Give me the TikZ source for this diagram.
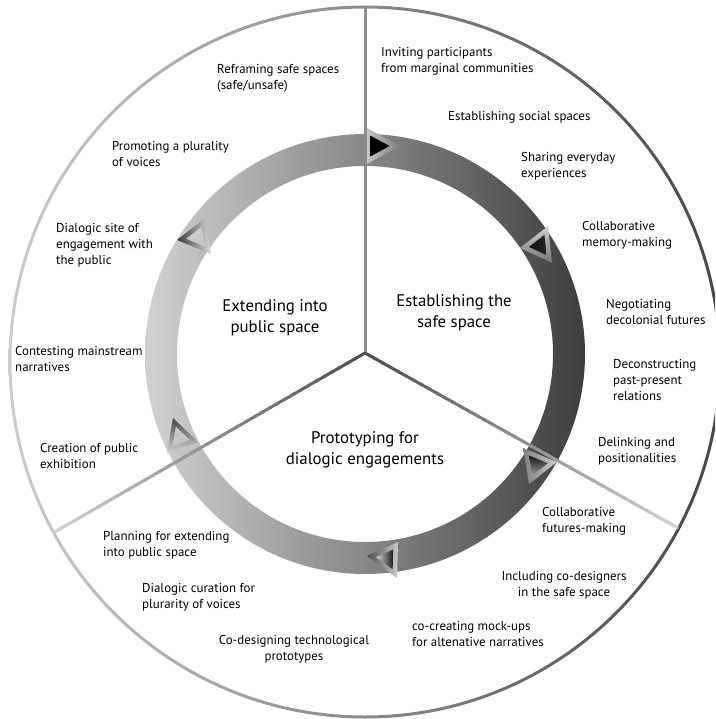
\documentclass[tikz,border=0pt]{standalone}
\usepackage{fontspec}
\setmainfont{PT Sans}
\usetikzlibrary{calc}
\newcommand\gradline[4]{%
  \foreach \k in {0,...,39}{%
    \pgfmathsetmacro\ta{\k/40}%
    \pgfmathsetmacro\tb{min(1,(\k+1.4)/40)}%
    \pgfmathsetmacro\pc{#3+(#4-#3)*(\k+0.5)/40}%
    \draw[radial, draw=black!\pc] ($(#1)!\ta!(#2)$) -- ($(#1)!\tb!(#2)$);
  }}
\newcommand\trimark[5]{%
  \coordinate (ta) at (#1); \coordinate (tb) at (#2); \coordinate (tc) at (#3);
  \coordinate (tm) at ($0.3333*(ta)+0.3333*(tb)+0.3334*(tc)$);
  \shade[#4] (ta) -- (tb) -- (tc) -- cycle;
  \shade[#5] ($(tm)!0.55!(ta)$) -- ($(tm)!0.55!(tb)$) -- ($(tm)!0.55!(tc)$) -- cycle;
}
\begin{document}
\begin{tikzpicture}[x=1pt,y=-1pt,
  lbl/.style={anchor=north west, inner sep=0pt, align=left, font=\fontsize{12.9}{16}\selectfont, text=black},
  lblc/.style={lbl, anchor=north, align=center},
  big/.style={anchor=north, inner sep=0pt, align=center, font=\fontsize{16.8}{21}\selectfont, text=black},
  radial/.style={line width=3pt}]
\useasboundingbox (0,0) rectangle (715,719);
\clip (0,0) rectangle (715,719);
\fill[white] (0,0) rectangle (715,719);
\coordinate (oc) at (365,362);
\coordinate (hub) at (365,353);
\coordinate (rc) at (365,354);
\coordinate (eTop) at (365,6);
\coordinate (eLL) at (53,533);
\coordinate (eLR) at (678,528);
% outer circle
\shade[left color=black!20, right color=black!72, even odd rule] (oc) circle (356.5pt) (oc) circle (353.5pt);
% ring
\shade[left color=black!18, right color=black!76, even odd rule] (rc) circle (220pt) (rc) circle (188pt);
% markers
\trimark{365,127}{400,146}{365,165}{left color=black!22, right color=black!50}{left color=black, right color=black}
\trimark{520,248}{548,226}{552,263}{top color=black!18, bottom color=black!55}{left color=black!95, right color=black!85}
\trimark{523,448}{557,462}{529,484}{left color=black!50, right color=black!20}{top color=black!92, bottom color=black!40}
\trimark{367,556}{398,542}{397,578}{left color=black!70, right color=black!20}{left color=black!15, right color=black!90}
\trimark{173,418}{198,442}{167,453}{top color=black!72, bottom color=black!18}{left color=black!22, right color=black!22}
\trimark{177,240}{205,218}{211,254}{left color=black!78, right color=black!15}{left color=black!22, right color=black!20}
% radial lines
\draw[radial, black!45] (hub) -- (eTop);
\gradline{hub}{eLL}{70}{18}
\gradline{hub}{eLR}{70}{18}
% centre labels
\node[big] (cEst) at (454,294) {Establishing the\\safe space};
\node[big] (cExt) at (275,299) {Extending into\\public space};
\node[big] (cPro) at (365,431) {Prototyping for\\dialogic engagements};
% labels
\node[lbl] (l1) at (381,47) {Inviting participants\\from marginal communities};
\node[lbl] (l2) at (448,111) {Establishing social spaces};
\node[lbl] (l3) at (521,152) {Sharing everyday\\experiences};
\node[lbl] (l4) at (582,221) {Collaborative\\memory-making};
\node[lbl] (l5) at (606,299) {Negotiating\\decolonial futures};
\node[lbl] (l6) at (613,359) {Deconstructing\\past-present\\relations};
\node[lbl] (l7) at (598,437) {Delinking and\\positionalities};
\node[lbl] (l8) at (542,507) {Collaborative\\futures-making};
\node[lblc] (l9) at (564,571) {Including co-designers\\in the safe space};
\node[lbl] (l10) at (412,621) {co-creating mock-ups\\for altenative narratives};
\node[lblc] (l11) at (294,635) {Co-designing technological\\prototypes};
\node[lbl] (l12) at (142,583) {Dialogic curation for\\plurarity of voices};
\node[lbl] (l13) at (103,531) {Planning for extending\\into public space};
\node[lbl] (l14) at (40,443) {Creation of public\\exhibition};
\node[lbl] (l15) at (15,346) {Contesting mainstream\\narratives};
\node[lbl] (l16) at (56,223) {Dialogic site of\\engagement with\\the public};
\node[lbl] (l17) at (112,141) {Promoting a plurality\\of voices};
\node[lbl] (l18) at (217,64) {Reframing safe spaces\\(safe/unsafe)};
\end{tikzpicture}
\end{document}
